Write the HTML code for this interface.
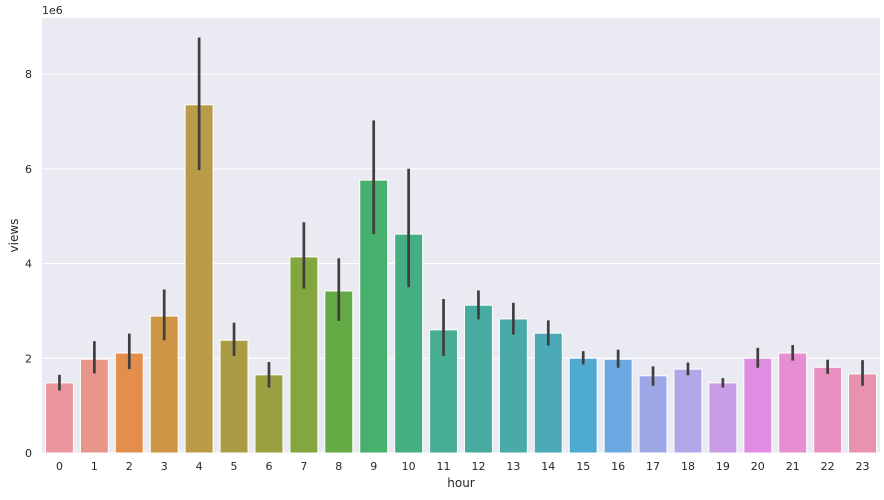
<!DOCTYPE html>
<html><head><meta charset="utf-8"><style>
body{margin:0;background:#fff;font-family:"DejaVu Sans","Liberation Sans",sans-serif;}
svg text{font-family:"DejaVu Sans","Liberation Sans",sans-serif;fill:#262626;}
</style></head><body>
<svg id="chart" width="884" height="496" xmlns="http://www.w3.org/2000/svg"></svg>
<script>
const categories=["0","1","2","3","4","5","6","7","8","9","10","11","12","13","14","15","16","17","18","19","20","21","22","23"];
const values=[1.48,1.98,2.11,2.89,7.35,2.38,1.65,4.14,3.42,5.76,4.62,2.6,3.12,2.83,2.53,2.0,1.98,1.63,1.77,1.48,2.0,2.11,1.81,1.67];
const errLow=[1.32,1.68,1.77,2.38,5.97,2.05,1.38,3.47,2.79,4.62,3.5,2.05,2.82,2.5,2.27,1.87,1.8,1.42,1.64,1.38,1.8,1.95,1.67,1.42];
const errHigh=[1.65,2.36,2.52,3.45,8.77,2.75,1.92,4.87,4.11,7.02,6.0,3.25,3.43,3.17,2.8,2.15,2.18,1.83,1.91,1.58,2.22,2.28,1.97,1.96];
const yTicks=[0,2,4,6,8];
const colors=["#ea969c","#e9968a","#e38e4d","#cc9645","#b99b48","#a99c45","#9aa03f","#84a63f","#64aa45","#47b06c","#46ae83","#47ad93","#48ab9f","#49aaa8","#4aa9b4","#4eaacf","#69a8e0","#9ca7e6","#b0a6e8","#c99ce6","#df8de3","#e78dd2","#e890bf","#e892ad"];
const L=42,R=880,T=18,B=453;
const slot=(R-L)/categories.length;
const x=i=>L+slot*(i+0.5);
const y=v=>B-v*(B-74)/8;
const svg=document.getElementById('chart');
const NS="http://www.w3.org/2000/svg";
function mk(t,a,p){const e=document.createElementNS(NS,t);for(const k in a)e.setAttribute(k,a[k]);(p||svg).appendChild(e);return e;}
const bg=mk('rect',{x:L,y:T,width:R-L,height:B-T,fill:'#eaeaf2'});


yTicks.forEach(t=>{
  const g=mk('line',{x1:L,x2:R,y1:y(t),y2:y(t),stroke:'#fff','stroke-width':1});
  
  
  const tx=mk('text',{x:L-10,y:y(t)+4,'text-anchor':'end','font-size':11});
  tx.textContent=t;
  
  
});
categories.forEach((c,i)=>{
  const w=slot*0.8;
  const b=mk('rect',{x:x(i)-w/2,y:y(values[i]),width:w,height:B-y(values[i]),fill:colors[i],stroke:'#fff','stroke-width':1});
  
  
  const e=mk('line',{x1:x(i),x2:x(i),y1:y(errLow[i]),y2:y(errHigh[i]),stroke:'#3f3f3f','stroke-width':2.7});
  
  
  const tx=mk('text',{x:x(i),y:B+17,'text-anchor':'middle','font-size':11});
  tx.textContent=c;
  
  
});
const xt=mk('text',{x:(L+R)/2,y:487,'text-anchor':'middle','font-size':12});
xt.textContent='hour';


const yt=mk('text',{x:18,y:(T+B)/2,'text-anchor':'middle','font-size':12,transform:'rotate(-90 18 '+((T+B)/2)+')'});
yt.textContent='views';


const sc=mk('text',{x:L,y:14,'font-size':11});
sc.textContent='1e6';


</script>
</body></html>
